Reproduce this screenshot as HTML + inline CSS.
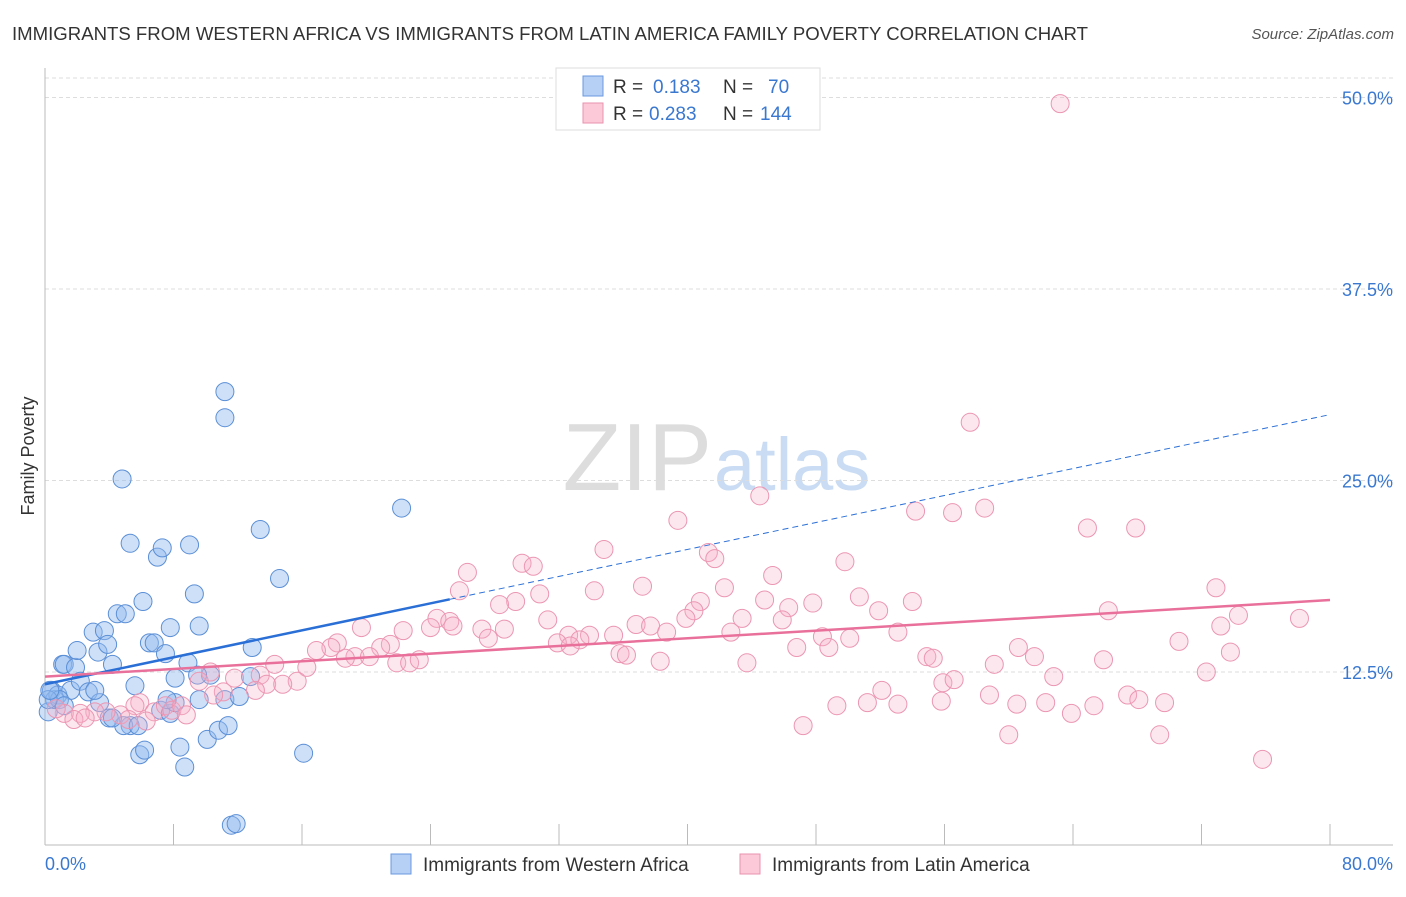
<!DOCTYPE html>
<html><head><meta charset="utf-8"><style>
body{margin:0;background:#fff;font-family:"Liberation Sans",sans-serif}
svg text{font-family:"Liberation Sans",sans-serif}
</style></head><body>
<svg id="chart" width="1406" height="892" viewBox="0 0 1406 892">
<text x="12" y="40" font-size="18" fill="#333" textLength="1076" lengthAdjust="spacingAndGlyphs">IMMIGRANTS FROM WESTERN AFRICA VS IMMIGRANTS FROM LATIN AMERICA FAMILY POVERTY CORRELATION CHART</text>
<text x="1394" y="39" font-size="15" fill="#555" text-anchor="end" font-style="italic">Source: ZipAtlas.com</text>
<text x="712" y="490" font-size="96" text-anchor="end" fill="#ddd" font-family="Liberation Serif, serif">ZIP</text>
<text x="714" y="490" font-size="74" fill="#c9dcf3">atlas</text>
<text transform="translate(34,456) rotate(-90)" font-size="18" fill="#333" text-anchor="middle">Family Poverty</text>
<g id="grid"></g><g id="axes"></g><g id="blue"></g><g id="pink"></g><g id="trends"></g>
<g>
<rect x="556" y="68" width="264" height="62" fill="#fff" stroke="#ddd"/>
<rect x="583" y="76" width="20" height="20" fill="#b5cff5" stroke="#6a9ae0"/>
<text x="613" y="93" font-size="19" fill="#333">R = </text><text x="653" y="93" font-size="19" fill="#3a78d0">0.183</text>
<text x="723" y="93" font-size="19" fill="#333">N = </text><text x="768" y="93" font-size="19" fill="#3a78d0">70</text>
<rect x="583" y="103" width="20" height="20" fill="#fbc9d8" stroke="#ea92ae"/>
<text x="613" y="120" font-size="19" fill="#333">R = </text><text x="649" y="120" font-size="19" fill="#3a78d0">0.283</text>
<text x="723" y="120" font-size="19" fill="#333">N = </text><text x="760" y="120" font-size="19" fill="#3a78d0">144</text>
</g>
<g>
<rect x="391" y="854" width="20" height="20" fill="#b5cff5" stroke="#6a9ae0"/>
<text x="423" y="871" font-size="19" fill="#333">Immigrants from Western Africa</text>
<rect x="740" y="854" width="20" height="20" fill="#fbc9d8" stroke="#ea92ae"/>
<text x="772" y="871" font-size="19" fill="#333">Immigrants from Latin America</text>
</g>
</svg>
<script>
const yTicks=[12.5,25,37.5,50];
const yTickLabels=["12.5%","25.0%","37.5%","50.0%"];
const xTicks=[8,16,24,32,40,48,56,64,72,80];
const blueX=[0.2,0.4,0.6,0.8,1.1,1.2,1.6,1.9,2.2,2.7,3.0,3.3,3.7,3.9,4.2,4.5,5.0,3.4,4.0,5.3,5.6,5.9,6.2,6.1,6.5,6.8,7.0,7.3,5.3,7.5,7.8,8.1,8.4,8.7,8.9,9.0,9.3,9.6,10.1,10.8,11.4,11.2,12.1,12.8,12.9,11.6,11.9,11.2,11.2,4.8,13.4,14.6,16.1,22.2,7.2,7.8,8.1,9.6,4.9,4.2,10.3,2.0,0.9,1.2,3.1,0.2,0.3,5.8,9.5,7.6];
const blueY=[9.9,11.3,10.7,11.0,13.0,13.0,11.3,12.8,11.9,11.2,15.1,13.8,15.2,14.3,13.0,16.3,16.3,10.5,9.5,9.0,11.6,7.1,7.4,17.1,14.4,14.4,20.0,20.6,20.9,13.7,15.4,12.1,7.6,6.3,13.1,20.8,17.6,15.5,8.1,8.7,9.0,10.7,10.9,12.2,14.1,2.5,2.6,30.8,29.1,25.1,21.8,18.6,7.2,23.2,10.0,9.8,10.5,10.7,9.0,9.5,12.3,13.9,10.7,10.3,11.3,10.7,11.3,9.0,12.3,10.7];
const pinkX=[63.2,57.6,44.5,39.4,54.2,56.5,58.5,64.9,67.9,34.8,41.3,41.7,49.8,29.7,30.4,26.3,45.3,37.2,42.3,34.2,25.8,30.8,72.9,50.7,54.0,29.3,28.3,40.8,44.8,47.8,46.3,40.4,51.9,66.2,74.3,78.1,24.4,25.2,39.9,43.4,45.9,25.4,24.0,27.2,28.6,31.3,36.8,37.7,19.7,22.3,27.6,32.6,33.9,35.4,38.7,42.7,53.1,73.2,48.4,50.1,31.9,33.3,32.7,18.2,17.8,21.5,20.9,16.9,46.8,48.8,70.6,60.6,19.3,18.7,20.2,35.8,36.2,38.3,43.7,54.9,55.3,61.6,65.9,73.8,21.9,22.7,23.3,59.1,14.3,16.3,72.3,10.3,13.4,62.8,55.9,56.6,13.8,15.7,14.8,11.8,9.6,13.1,52.1,11.1,10.5,58.8,67.4,68.1,55.8,60.5,62.3,65.3,69.7,49.3,51.2,53.1,63.9,5.9,6.8,5.6,7.5,7.9,8.5,8.8,4.7,3.8,3.1,2.2,1.2,1.8,2.5,6.3,47.2,60.0,69.4,75.8,0.7,5.2];
const pinkY=[49.6,28.8,24.0,22.4,23.0,22.9,23.2,21.9,21.9,20.5,20.3,19.9,19.7,19.6,19.4,19.0,18.8,18.1,18.0,17.8,17.8,17.6,18.0,17.4,17.1,17.1,16.9,17.1,17.2,17.0,16.7,16.5,16.5,16.5,16.2,16.0,16.0,15.8,16.0,16.0,15.9,15.5,15.4,15.3,15.3,15.9,15.6,15.5,15.4,15.2,14.7,14.9,14.9,14.9,15.1,15.1,15.1,15.5,14.8,14.7,14.4,14.6,14.2,14.4,14.1,14.3,14.1,13.9,14.1,14.1,14.5,14.1,13.5,13.4,13.5,13.7,13.6,13.2,13.1,13.5,13.4,13.5,13.3,13.8,13.1,13.1,13.3,13.0,13.0,12.8,12.5,12.5,12.3,12.2,11.8,12.0,11.7,11.9,11.7,12.1,11.9,11.3,11.3,11.2,11.0,11.0,11.0,10.7,10.6,10.4,10.5,10.3,10.5,10.3,10.5,10.4,9.8,10.5,9.9,10.3,10.3,10.0,10.3,9.7,9.7,9.9,9.9,9.8,9.8,9.4,9.5,9.3,9.0,8.4,8.4,6.8,10.1,9.4];
const blueTrend=[11.7,29.3], blueSolidEnd=25.2;
const pinkTrend=[12.2,17.2];
const NS="http://www.w3.org/2000/svg";
const X=v=>45+v/80*1285, Y=v=>863.5-v/12.5*191.5;
function mk(tag,attrs,parent){const e=document.createElementNS(NS,tag);for(const k in attrs)e.setAttribute(k,attrs[k]);document.getElementById(parent).appendChild(e);return e;}
let g=mk('line',{x1:45,x2:1393,y1:78,y2:78,stroke:'#ddd','stroke-dasharray':'4 3'},'grid');


yTicks.forEach((t,i)=>{
 const l=mk('line',{x1:45,x2:1393,y1:Y(t),y2:Y(t),stroke:'#ddd','stroke-dasharray':'4 3'},'grid');
 
 
 const tx=mk('text',{x:1393,y:Y(t)+7,'font-size':18,fill:'#3a78d0','text-anchor':'end'},'grid');
 tx.textContent=yTickLabels[i];
 
 
});
let a=mk('line',{x1:45,x2:45,y1:68,y2:845,stroke:'#bbb'},'axes');


a=mk('line',{x1:45,x2:1393,y1:845,y2:845,stroke:'#bbb'},'axes');


xTicks.forEach(t=>{const l=mk('line',{x1:X(t),x2:X(t),y1:824,y2:845,stroke:'#bbb'},'axes');
 
 });
let t0=mk('text',{x:45,y:870,'font-size':18,fill:'#3a78d0'},'axes');t0.textContent='0.0%';


let t1=mk('text',{x:1393,y:870,'font-size':18,fill:'#3a78d0','text-anchor':'end'},'axes');t1.textContent='80.0%';


blueX.forEach((x,i)=>{const c=mk('circle',{cx:X(x),cy:Y(blueY[i]),r:9,fill:'rgba(147,187,240,0.45)',stroke:'#5b8fd6','stroke-width':1},'blue');
 
 });
pinkX.forEach((x,i)=>{const c=mk('circle',{cx:X(x),cy:Y(pinkY[i]),r:9,fill:'rgba(247,175,200,0.3)',stroke:'#eb96b2','stroke-width':1},'pink');
 
 });
const by=x=>blueTrend[0]+(blueTrend[1]-blueTrend[0])*x/80;
let l1=mk('line',{x1:X(0),y1:Y(by(0)),x2:X(blueSolidEnd),y2:Y(by(blueSolidEnd)),stroke:'#2a6fd6','stroke-width':2.5},'trends');


let l2=mk('line',{x1:X(blueSolidEnd),y1:Y(by(blueSolidEnd)),x2:X(80),y2:Y(by(80)),stroke:'#2a6fd6','stroke-width':1,'stroke-dasharray':'6 4'},'trends');


let l3=mk('line',{x1:X(0),y1:Y(pinkTrend[0]),x2:X(80),y2:Y(pinkTrend[1]),stroke:'#e8709a','stroke-width':2.5},'trends');


</script>
</body></html>
